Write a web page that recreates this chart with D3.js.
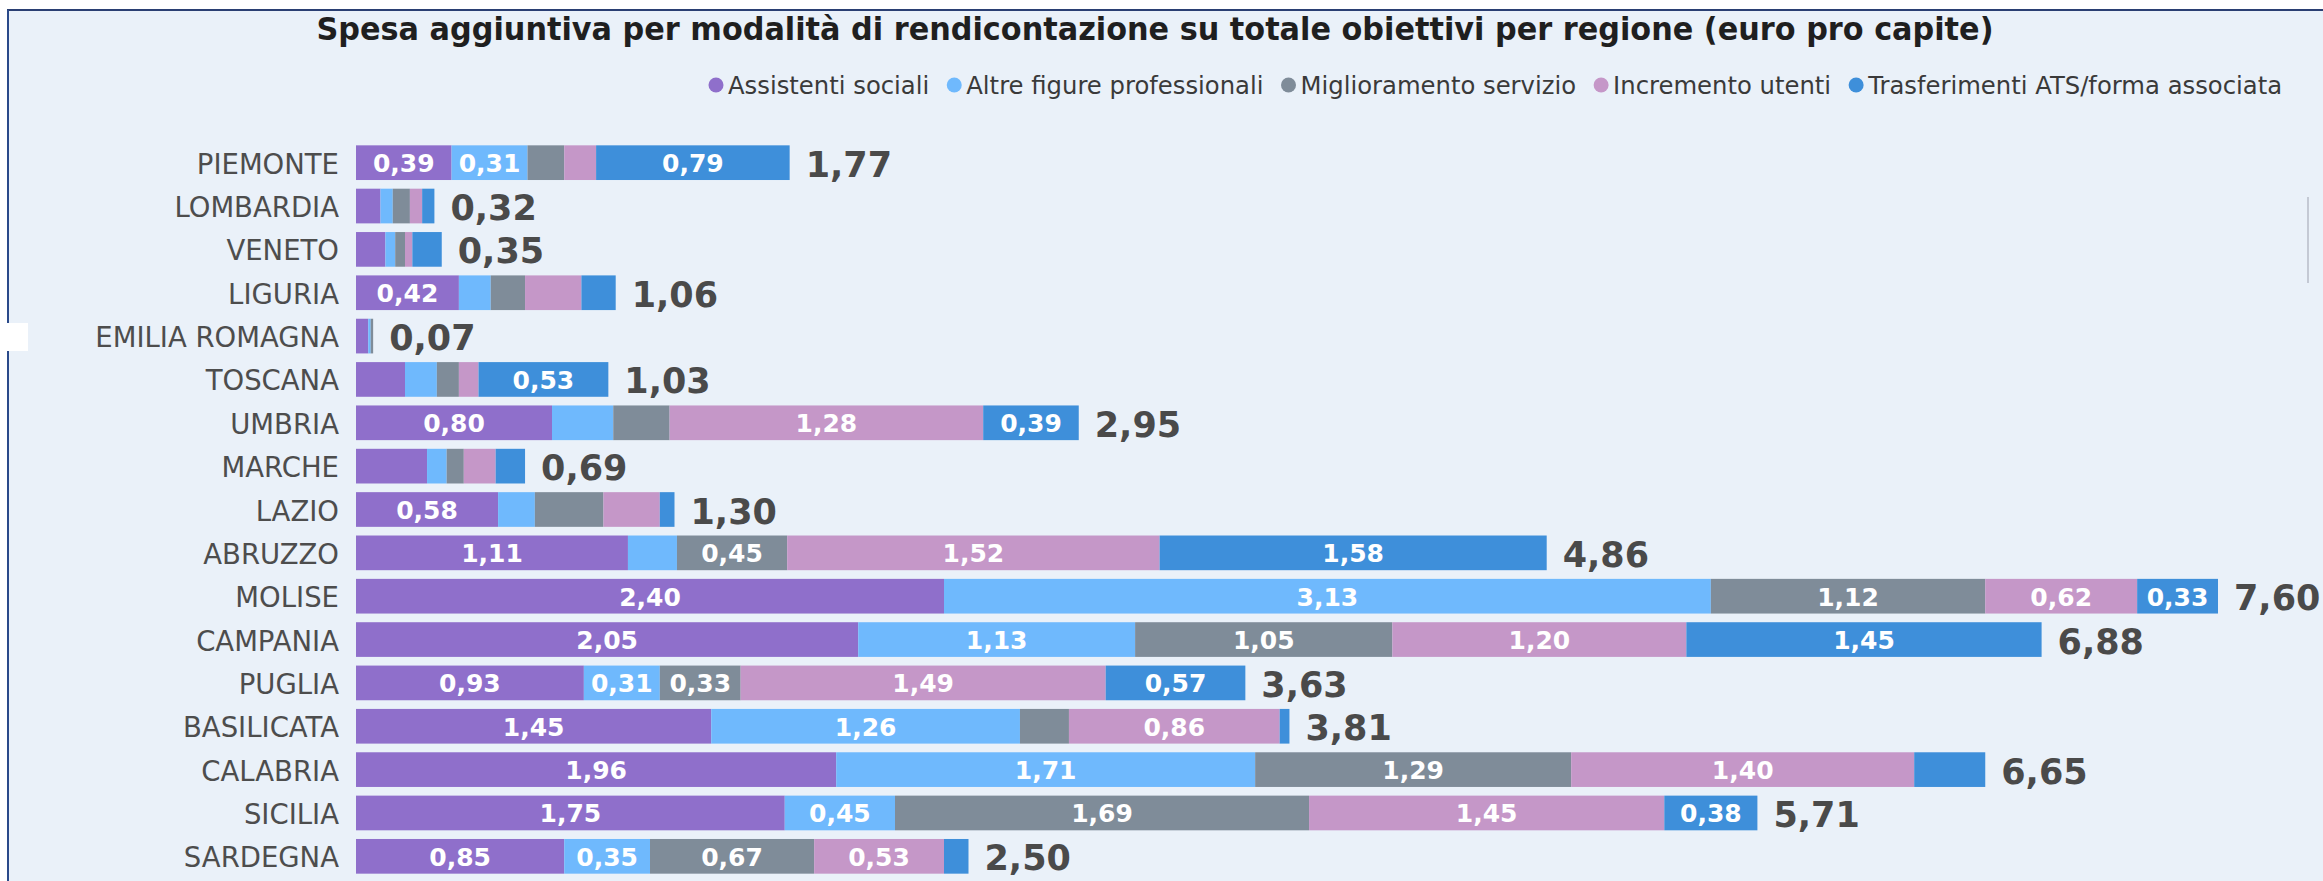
<!DOCTYPE html>
<html>
<head>
<meta charset="utf-8">
<script src="https://cdn.jsdelivr.net/npm/d3@7"></script>
<style>
  html, body { margin: 0; padding: 0; background: #ffffff; }
  svg { display: block; font-family: "DejaVu Sans", Verdana, sans-serif; }
</style>
</head>
<body>
<div id="chart"></div>
<script>
// spesa aggiuntiva per modalità di rendicontazione (euro pro capite)
var w = 2323;
var h = 881;

var regions = ["PIEMONTE", "LOMBARDIA", "VENETO", "LIGURIA", "EMILIA ROMAGNA", "TOSCANA", "UMBRIA", "MARCHE", "LAZIO",
               "ABRUZZO", "MOLISE", "CAMPANIA", "PUGLIA", "BASILICATA", "CALABRIA", "SICILIA", "SARDEGNA"];

var seriesNames = ["Assistenti sociali", "Altre figure professionali", "Miglioramento servizio", "Incremento utenti", "Trasferimenti ATS/forma associata"];

var assistenti    = [0.39, 0.10, 0.12, 0.42, 0.05, 0.20, 0.80, 0.29, 0.58, 1.11, 2.40, 2.05, 0.93, 1.45, 1.96, 1.75, 0.85];
var altreFigure   = [0.31, 0.05, 0.04, 0.13, 0.01, 0.13, 0.25, 0.08, 0.15, 0.20, 3.13, 1.13, 0.31, 1.26, 1.71, 0.45, 0.35];
var miglioramento = [0.15, 0.07, 0.04, 0.14, 0.01, 0.09, 0.23, 0.07, 0.28, 0.45, 1.12, 1.05, 0.33, 0.20, 1.29, 1.69, 0.67];
var incremento    = [0.13, 0.05, 0.03, 0.23, 0.00, 0.08, 1.28, 0.13, 0.23, 1.52, 0.62, 1.20, 1.49, 0.86, 1.40, 1.45, 0.53];
var trasferimenti = [0.79, 0.05, 0.12, 0.14, 0.00, 0.53, 0.39, 0.12, 0.06, 1.58, 0.33, 1.45, 0.57, 0.04, 0.29, 0.38, 0.10];
var totals        = [1.77, 0.32, 0.35, 1.06, 0.07, 1.03, 2.95, 0.69, 1.30, 4.86, 7.60, 6.88, 3.63, 3.81, 6.65, 5.71, 2.50];

var colors = ["#8f6fcb", "#6fb9fd", "#7f8c99", "#c597c8", "#3e8fda"];

var series = [assistenti, altreFigure, miglioramento, incremento, trasferimenti];

// table for d3.stack
var table = regions.map(function (r, i) {
  var row = { region: r, total: totals[i] };
  seriesNames.forEach(function (s, j) { row[s] = series[j][i]; });
  return row;
});

var it = d3.formatLocale({ decimal: ",", thousands: ".", grouping: [3], currency: ["€", ""] });
var fmt = it.format(".2f");

var svg = d3.select("#chart").append("svg")
            .attr("width", w)
            .attr("height", h);

// panel background + borders
svg.append("rect").attr("x", 0).attr("y", 0).attr("width", w).attr("height", h).attr("fill", "#ffffff");
svg.append("rect").attr("x", 8).attr("y", 10).attr("width", w - 8).attr("height", h - 10).attr("fill", "#eaf1f9");
svg.append("line").attr("x1", 7).attr("x2", w).attr("y1", 10).attr("y2", 10)
   .attr("stroke", "#2a3f73").attr("stroke-width", 2);
svg.append("line").attr("x1", 8).attr("x2", 8).attr("y1", 10).attr("y2", h)
   .attr("stroke", "#2a4a8a").attr("stroke-width", 2);
// little white patch on the left edge (screenshot artefact)
svg.append("rect").attr("x", 0).attr("y", 323).attr("width", 28).attr("height", 28).attr("fill", "#ffffff");
// faint scrollbar stripe on the right
svg.append("line").attr("x1", 2308).attr("x2", 2308).attr("y1", 197).attr("y2", 283)
   .attr("stroke", "#c4c9d4").attr("stroke-width", 2);

// title, squeezed to its width in the reference (original font is narrower)
svg.append("text")
   .attr("x", 1155)
   .attr("y", 40)
   .attr("text-anchor", "middle")
   .attr("font-weight", 700)
   .attr("fill", "#1f1f1f")
   .attr("font-size", 32)
   .attr("textLength", 1677)
   .attr("lengthAdjust", "spacingAndGlyphs")
   .text("Spesa aggiuntiva per modalità di rendicontazione su totale obiettivi per regione (euro pro capite)");

// scales
var x = d3.scaleLinear()
          .domain([0, d3.max(totals)])
          .range([356, 356 + 245 * d3.max(totals)]);

var y = d3.scaleBand()
          .domain(regions)
          .range([141, 878])
          .paddingInner(0.2)
          .paddingOuter(0.1);

var stack = d3.stack().keys(seriesNames);
var stacked = stack(table);

var layer = svg.append("g")
               .selectAll("g")
               .data(stacked)
               .enter()
               .append("g")
               .attr("fill", function (d, i) { return colors[i]; });

layer.selectAll("rect")
     .data(function (d) { return d; })
     .enter()
     .append("rect")
     .attr("x", function (d) { return x(d[0]); })
     .attr("y", function (d) { return y(d.data.region); })
     .attr("width", function (d) { return Math.max(0, x(d[1]) - x(d[0])); })
     .attr("height", y.bandwidth());

// value labels inside segments (only the wide ones, like the original)
layer.selectAll("text")
     .data(function (d) { return d.filter(function (p) { return p[1] - p[0] >= 0.30; }); })
     .enter()
     .append("text")
     .attr("x", function (d) { return (x(d[0]) + x(d[1])) / 2; })
     .attr("y", function (d) { return y(d.data.region) + y.bandwidth() / 2 + 1; })
     .attr("text-anchor", "middle")
     .attr("dominant-baseline", "central")
     .attr("fill", "#ffffff")
     .attr("font-weight", 700)
     .attr("font-size", 25)
     .text(function (d) { return fmt(d[1] - d[0]); });

// totals
var ends = stacked[stacked.length - 1];
svg.append("g")
   .selectAll("text")
   .data(ends)
   .enter()
   .append("text")
   .attr("x", function (d) { return x(d[1]) + 16; })
   .attr("y", function (d) { return y(d.data.region) + y.bandwidth() / 2 + 2; })
   .attr("dominant-baseline", "central")
   .attr("fill", "#4a4a4a")
   .attr("font-weight", 700)
   .attr("font-size", 35)
   .text(function (d) { return fmt(d.data.total); });

// region labels
svg.append("g")
   .selectAll("text")
   .data(regions)
   .enter()
   .append("text")
   .attr("x", 339)
   .attr("y", function (d) { return y(d) + y.bandwidth() / 2 + 1; })
   .attr("text-anchor", "end")
   .attr("dominant-baseline", "central")
   .attr("fill", "#4d4d4d")
   .attr("font-size", 27.5)
   .text(function (d) { return d; });

// legend, right aligned at 2308
var legend = svg.append("g").attr("font-size", 22).attr("fill", "#3a3a3a");
var items = legend.selectAll("g")
                  .data(seriesNames)
                  .enter()
                  .append("g");
items.append("circle")
     .attr("r", 7.5)
     .attr("cy", 85)
     .attr("fill", function (d, i) { return colors[i]; });
items.append("text")
     .attr("y", 85)
     .attr("dominant-baseline", "central")
     .text(function (d) { return d; });

function layoutLegend() {
  var pos = 0;
  var widths = [];
  items.each(function () {
    widths.push(d3.select(this).select("text").node().getComputedTextLength());
  });
  var xs = [];
  widths.forEach(function (wd) {
    xs.push(pos);
    pos += 7 + 12 + wd + 18;
  });
  return { xs: xs, total: pos - 18 };
}
var lay = layoutLegend();
var fs = 22 * (2308 - 716) / lay.total;
legend.attr("font-size", fs);
lay = layoutLegend();
items.each(function (d, i) {
  var g = d3.select(this);
  g.select("circle").attr("cx", 716 + lay.xs[i]);
  g.select("text").attr("x", 716 + lay.xs[i] + 12);
});
</script>
</body>
</html>
